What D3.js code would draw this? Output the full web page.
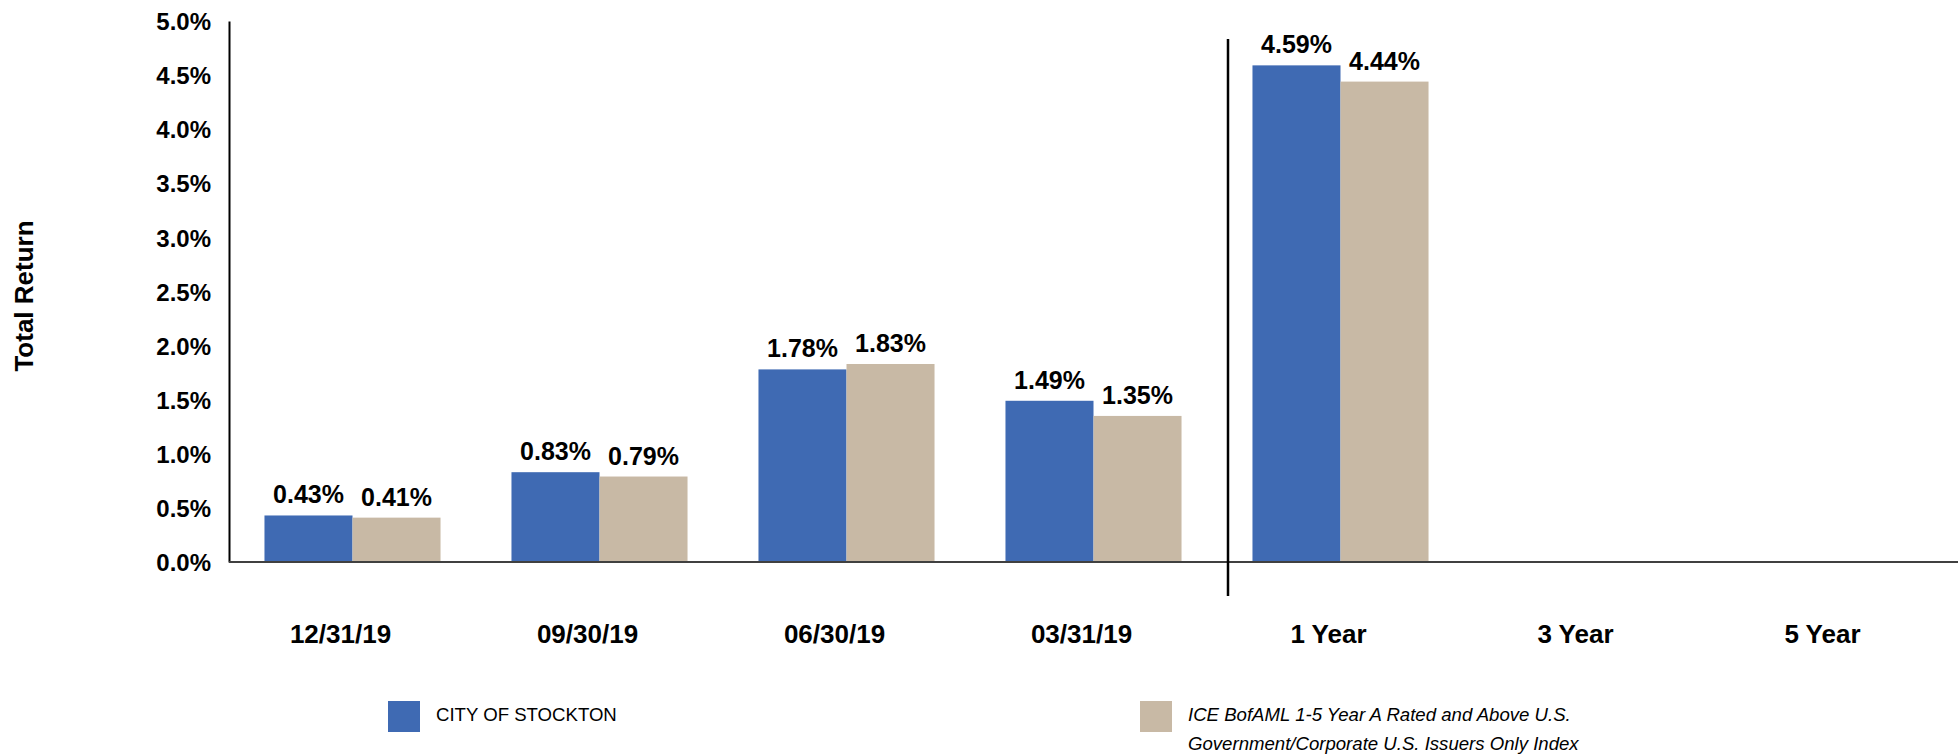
<!DOCTYPE html>
<html>
<head>
<meta charset="utf-8">
<script src="https://cdn.jsdelivr.net/npm/d3@7"></script>
<style>
	body { margin: 0; background: #fff; }
	svg { display: block; font-family: 'Liberation Sans', Arial, sans-serif; }
	.tick text { font-size: 24px; font-weight: bold; fill: #000; }
	.valueLabel { font-size: 25px; font-weight: bold; }
	.catLabel { font-size: 26px; font-weight: bold; }
	.legendText { font-size: 18.6px; }
</style>
</head>
<body>
<svg id="chart" width="1958" height="756"></svg>
<script>
const categories = ['12/31/19', '09/30/19', '06/30/19', '03/31/19', '1 Year', '3 Year', '5 Year'];
const seriesNames = ['CITY OF STOCKTON', 'ICE BofAML 1-5 Year A Rated and Above U.S. Government/Corporate U.S. Issuers Only Index'];
const stocktonValues = [0.43, 0.83, 1.78, 1.49, 4.59, null, null];
const indexValues = [0.41, 0.79, 1.83, 1.35, 4.44, null, null];
const yTicks = [0, 0.5, 1, 1.5, 2, 2.5, 3, 3.5, 4, 4.5, 5];
const colors = ['#3f6ab3', '#c8b9a5'];

const svg = d3.select('#chart');
const plotLeft = 229, plotRight = 1958, plotTop = 21, plotBottom = 562;

let x = d3.scaleBand().domain(categories).range([plotLeft, plotRight]);
let xSub = d3.scaleBand().domain(seriesNames).range([0, x.bandwidth()]).paddingInner(0).paddingOuter(0.403);
let y = d3.scaleLinear().domain([0, 5]).range([plotBottom, plotTop]);

// y axis
let yAxis = svg.append('g')
	.attr('transform', 'translate(' + plotLeft + ',0)')
	.call(d3.axisLeft(y).tickValues(yTicks).tickSize(0).tickSizeOuter(0).tickPadding(18)
		.tickFormat((d) => d3.format('.1f')(d) + '%'));
yAxis.select('.domain').attr('stroke', '#000').attr('stroke-width', 2);
yAxis.selectAll('.tick text').attr('dy', '0.36em');

svg.append('text')
	.attr('transform', 'translate(33,296) rotate(-90)')
	.attr('text-anchor', 'middle')
	.attr('font-size', 26)
	.attr('font-weight', 'bold')
	.text('Total Return');

// bars
let rows = categories.map((c, i) => {
	return {cat: c, values: [stocktonValues[i], indexValues[i]]};
});

let groups = svg.selectAll('.group')
	.data(rows)
	.enter().append('g')
	.attr('class', 'group')
	.attr('transform', (d) => 'translate(' + x(d.cat) + ',0)');

let cells = groups.selectAll('.cell')
	.data((d) => d.values.map((v, j) => {
		return {name: seriesNames[j], value: v, idx: j};
	}).filter((d) => d.value !== null))
	.enter();

cells.append('rect')
	.attr('x', (d) => xSub(d.name))
	.attr('width', xSub.bandwidth())
	.attr('y', (d) => y(d.value))
	.attr('height', (d) => y(0) - y(d.value))
	.attr('fill', (d) => colors[d.idx]);

cells.append('text')
	.attr('class', 'valueLabel')
	.attr('x', (d) => xSub(d.name) + xSub.bandwidth() / 2)
	.attr('y', (d) => y(d.value) - 12)
	.attr('text-anchor', 'middle')
	.text((d) => d3.format('.2f')(d.value) + '%');

// x axis line
svg.append('line')
	.attr('x1', plotLeft).attr('x2', plotRight)
	.attr('y1', y(0)).attr('y2', y(0))
	.attr('stroke', '#404040')
	.attr('stroke-width', 2);

// separator between quarters and trailing periods
let sepX = x('1 Year') + 11;
svg.append('line')
	.attr('x1', sepX).attr('x2', sepX)
	.attr('y1', 39).attr('y2', 596)
	.attr('stroke', '#000')
	.attr('stroke-width', 2.5);

svg.selectAll('.catLabel')
	.data(categories)
	.enter().append('text')
	.attr('class', 'catLabel')
	.attr('x', (d) => x(d) + x.bandwidth() / 2 - 12)
	.attr('y', 643)
	.attr('text-anchor', 'middle')
	.text((d) => d);

// legend
let legend = [
	{x: 388, lines: ['CITY OF STOCKTON'], italic: false},
	{x: 1140, lines: ['ICE BofAML 1-5 Year A Rated and Above U.S.', 'Government/Corporate U.S. Issuers Only Index'], italic: true}
];
legend.forEach((item, i) => {
	svg.append('rect')
		.attr('x', item.x).attr('y', 701)
		.attr('width', 32).attr('height', 31)
		.attr('fill', colors[i]);
	let t = svg.append('text')
		.attr('class', 'legendText')
		.attr('font-style', item.italic ? 'italic' : 'normal');
	item.lines.forEach((line, k) => {
		t.append('tspan')
			.attr('x', item.x + 48)
			.attr('y', 721 + k * 29)
			.text(line);
	});
});
</script>
</body>
</html>
